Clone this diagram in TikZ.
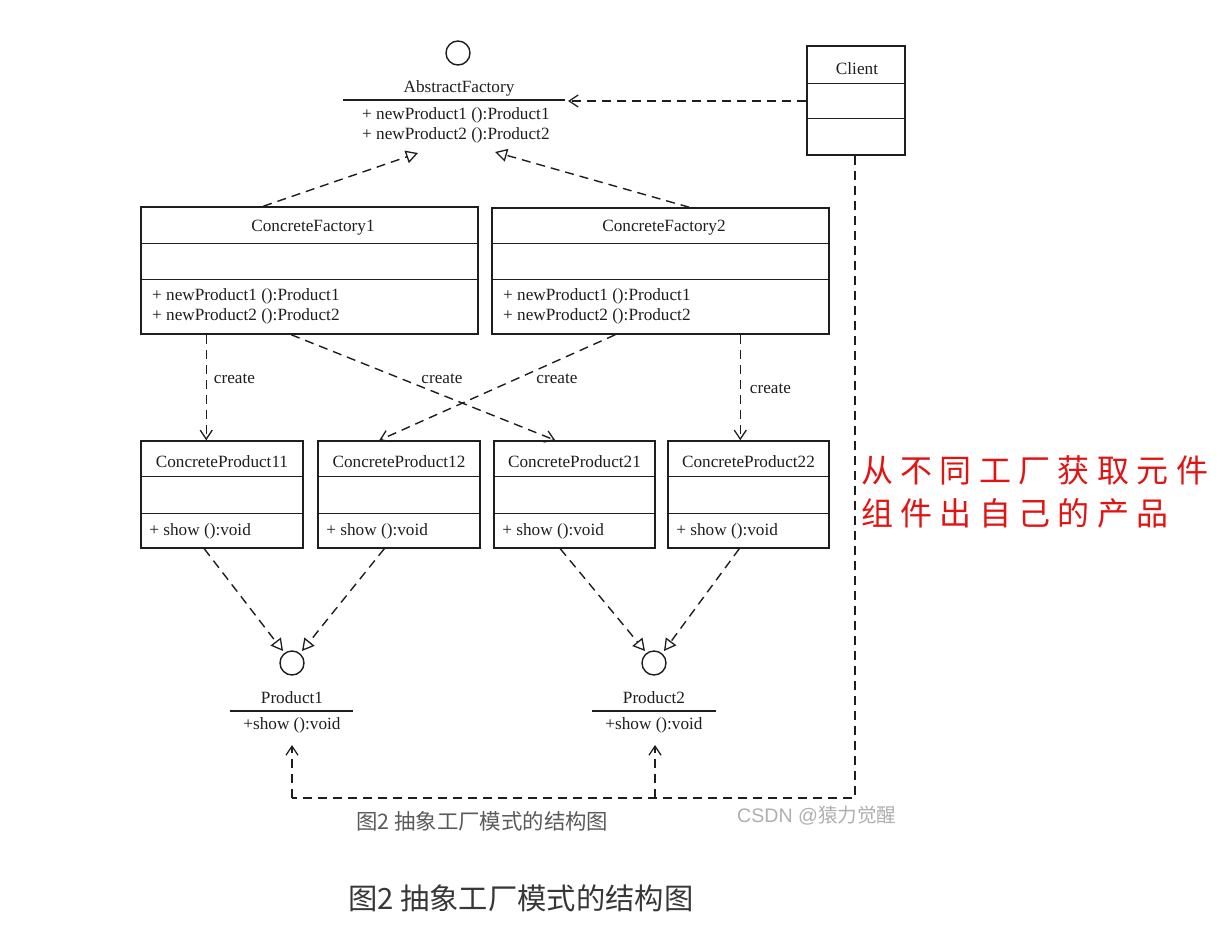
\documentclass[tikz,border=0pt]{standalone}
\usepackage{fontspec}
\setmainfont{Liberation Serif}
\newfontfamily\cjk{Noto Sans CJK SC}
\newfontfamily\cjkred[LetterSpace=23]{Noto Sans CJK SC}
\newfontfamily\wmfont{Liberation Sans}
\usetikzlibrary{arrows.meta,calc}
\definecolor{ink}{RGB}{30,30,30}
\definecolor{redtxt}{RGB}{225,20,20}
\definecolor{capgray}{RGB}{90,90,90}
\definecolor{capdark}{RGB}{55,55,55}
\definecolor{wmgray}{RGB}{175,175,175}
\tikzset{
  classbox/.style={draw=ink, line width=1.5pt, inner sep=0pt},
  divider/.style={draw=ink, line width=1.5pt},
  txt/.style={inner sep=0pt, text=ink, yshift=-1.5pt, font=\fontsize{17.2}{20}\selectfont},
  dep/.style={draw=ink, line width=1.4pt, dash pattern=on 9pt off 6pt, -{Straight Barb[length=9pt,width=12pt,line width=1.3pt]}},
  real/.style={draw=ink, line width=1.4pt, dash pattern=on 9pt off 6pt, -{Triangle[open,length=12pt,width=13pt,line width=1.3pt]}},
  plain/.style={draw=ink, line width=1.4pt, dash pattern=on 9pt off 6pt},
  iface/.style={draw=ink, line width=1.4pt, circle, minimum size=24pt, inner sep=0pt}
}
\begin{document}
\begin{tikzpicture}[x=1pt,y=-1pt]
\useasboundingbox (0,0) rectangle (1224,932);

% ---- AbstractFactory interface
\node[iface] (afc) at (458,53) {};
\node[txt] (af) at (459,87) {AbstractFactory};
\draw[divider] (343,100) coordinate (afl) -- (565,100) coordinate (afr);
\node[txt, anchor=west] (afm1) at (362,114) {+ newProduct1 ():Product1};
\node[txt, anchor=west] (afm2) at (362,134) {+ newProduct2 ():Product2};
\coordinate (afin) at (568,101);
\coordinate (aftipA) at (418,153);
\coordinate (aftipB) at (495,152);

% ---- Client
\node[classbox, minimum width=98pt, minimum height=109pt] (client) at (856,100.5) {};
\draw[divider] ($(client.north west)+(0,38)$) -- ($(client.north east)+(0,38)$);
\draw[divider] ($(client.north west)+(0,73)$) -- ($(client.north east)+(0,73)$);
\node[txt] (clientt) at (857,67) {Client};

% ---- Concrete factories
\node[classbox, minimum width=337pt, minimum height=127pt] (cf1) at (309.5,270.5) {};
\draw[divider] ($(cf1.north west)+(0,37)$) -- ($(cf1.north east)+(0,37)$);
\draw[divider] ($(cf1.north west)+(0,73)$) -- ($(cf1.north east)+(0,73)$);
\node[txt] (cf1t) at (313,226) {ConcreteFactory1};
\node[txt, anchor=west] (cf1m1) at (152,295) {+ newProduct1 ():Product1};
\node[txt, anchor=west] (cf1m2) at (152,315) {+ newProduct2 ():Product2};

\node[classbox, minimum width=337pt, minimum height=126pt] (cf2) at (660.5,271) {};
\draw[divider] ($(cf2.north west)+(0,36)$) -- ($(cf2.north east)+(0,36)$);
\draw[divider] ($(cf2.north west)+(0,72)$) -- ($(cf2.north east)+(0,72)$);
\node[txt] (cf2t) at (664,226) {ConcreteFactory2};
\node[txt, anchor=west] (cf2m1) at (503,295) {+ newProduct1 ():Product1};
\node[txt, anchor=west] (cf2m2) at (503,315) {+ newProduct2 ():Product2};

% ---- Concrete products
\foreach \n/\cx/\w/\lab in {cp11/222/162/ConcreteProduct11, cp12/399/162/ConcreteProduct12, cp21/574.5/161/ConcreteProduct21, cp22/748.5/161/ConcreteProduct22}{
  \node[classbox, minimum width=\w pt, minimum height=107pt] (\n) at (\cx,494.5) {};
  \draw[divider] ($(\n.north west)+(0,36)$) -- ($(\n.north east)+(0,36)$);
  \draw[divider] ($(\n.north west)+(0,73)$) -- ($(\n.north east)+(0,73)$);
  \node[txt] (\n t) at (\cx,460) {\lab};
  \node[txt, anchor=west] (\n m) at ($(\n.south west)+(9,-19)$) {+ show ():void};
}

% ---- Product interfaces
\node[iface] (p1c) at (292,663) {};
\node[txt] (p1) at (292,696) {Product1};
\draw[divider] (230,711) -- (353,711);
\node[txt] (p1m) at (292,724) {+show ():void};

\node[iface] (p2c) at (654,663) {};
\node[txt] (p2) at (654,696) {Product2};
\draw[divider] (592,711) -- (716,711);
\node[txt] (p2m) at (654,724) {+show ():void};

% ---- Connectors
\draw[dep] (client.west |- afin) -- (afin);
\draw[real] ($(cf1.north west)+(123,0)$) -- (aftipA);
\draw[real] ($(cf2.north west)+(198,0)$) -- (aftipB);

\draw[dep] ($(cf1.south west)+(66,0)$) -- ($(cp11.north west)+(66,0)$)
  node[txt, pos=0.4, anchor=west, xshift=7pt] (c1) {create};
\draw[dep] ($(cf1.south west)+(151,0)$) -- ($(cp21.north west)+(62,0)$);
\node[txt] (c2) at (442,377) {create};
\draw[dep] ($(cf2.south west)+(124,0)$) -- ($(cp12.north west)+(62,0)$);
\node[txt] (c3) at (557,377) {create};
\draw[dep] ($(cf2.south west)+(249,0)$) -- ($(cp22.north west)+(73,0)$)
  node[txt, pos=0.5, anchor=west, xshift=9pt] (c4) {create};

\draw[real] ($(cp11.south west)+(64,0)$) -- ($(p1c.center)+(-9,-12)$);
\draw[real] ($(cp12.south west)+(67,0)$) -- ($(p1c.center)+(10,-12)$);
\draw[real] ($(cp21.south west)+(67,0)$) -- ($(p2c.center)+(-9,-12)$);
\draw[real] ($(cp22.south west)+(72,0)$) -- ($(p2c.center)+(10,-12)$);

\coordinate (corner) at (855,798);
\coordinate (j2) at (655,798);
\coordinate (j1) at (292,798);
\draw[plain] ($(client.south)+(-1,0)$) -- (corner) -- (j1);
\draw[dep] (j1) -- (292,745);
\draw[dep] (j2) -- (655,745);

% ---- Texts
\node[inner sep=0pt, anchor=west, text=redtxt, font=\cjkred\fontsize{32}{36}\selectfont] (r1) at (861,470) {从不同工厂获取元件};
\node[inner sep=0pt, anchor=west, text=redtxt, font=\cjkred\fontsize{32}{36}\selectfont] (r2) at (861,513) {组件出自己的产品};

\node[inner sep=0pt, anchor=west, text=capgray, font=\cjk\fontsize{21.4}{24}\selectfont] (cap1) at (356,821) {图2 抽象工厂模式的结构图};
\node[inner sep=0pt, anchor=west, text=wmgray, font=\cjk\fontsize{19.6}{22}\selectfont] (wm) at (737,816) {{\wmfont CSDN @}猿力觉醒};
\node[inner sep=0pt, anchor=west, text=capdark, font=\cjk\fontsize{29.3}{33}\selectfont] (cap2) at (348,898) {图2 抽象工厂模式的结构图};
\end{tikzpicture}
\end{document}
